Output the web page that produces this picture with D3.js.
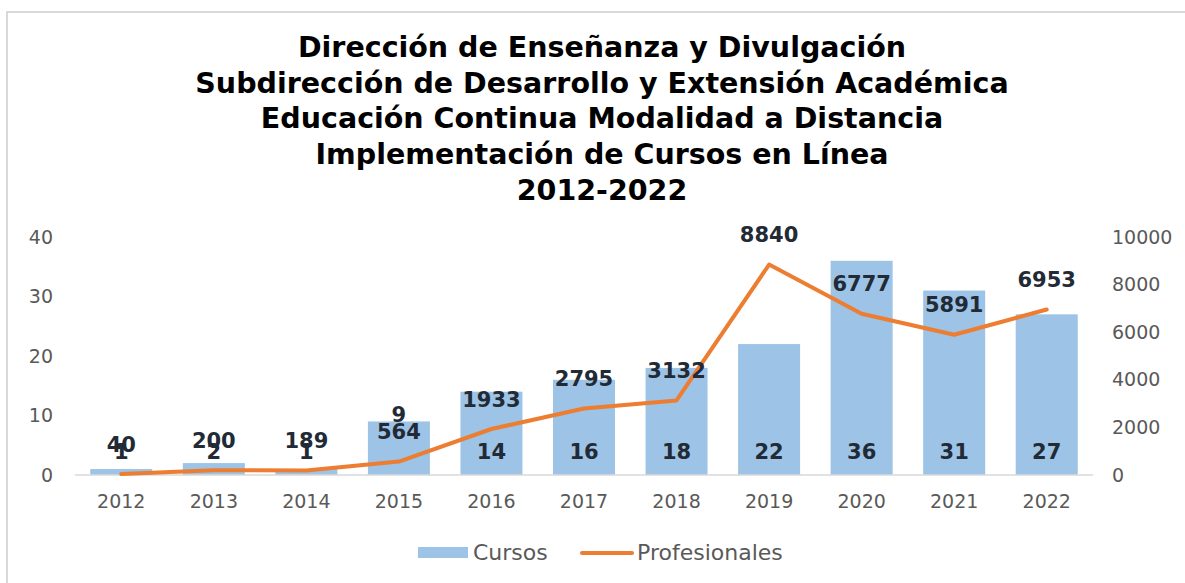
<!DOCTYPE html>
<html>
<head>
<meta charset="utf-8">
<script src="https://cdn.jsdelivr.net/npm/d3@7"></script>
<style>
  body { margin: 0; background: #fff; }
  svg { display: block; }
</style>
</head>
<body>
<svg id="chart" width="1185" height="583"></svg>
<script>
var years = ["2012", "2013", "2014", "2015", "2016", "2017", "2018", "2019", "2020", "2021", "2022"];
var cursos = [1, 2, 1, 9, 14, 16, 18, 22, 36, 31, 27];
var profesionales = [40, 200, 189, 564, 1933, 2795, 3132, 8840, 6777, 5891, 6953];
var leftTicks = [0, 10, 20, 30, 40];
var rightTicks = [0, 2000, 4000, 6000, 8000, 10000];
var titleLines = [
    "Dirección de Enseñanza y Divulgación",
    "Subdirección de Desarrollo y Extensión Académica",
    "Educación Continua Modalidad a Distancia",
    "Implementación de Cursos en Línea",
    "2012-2022"
];

var svg = d3.select("#chart");
var font = "'DejaVu Sans', sans-serif";
var labelColor = "#222a35";
var axisColor = "#595959";

// outer frame
svg.append("rect")
    .attr("x", 7).attr("y", 12)
    .attr("width", 1200).attr("height", 600)
    .attr("fill", "none")
    .attr("stroke", "#d9d9d9")
    .attr("stroke-width", 2);

// title
svg.append("g").selectAll("text")
    .data(titleLines)
    .enter().append("text")
    .attr("x", 602)
    .attr("y", (d, i) => 57 + i * 35.7)
    .attr("text-anchor", "middle")
    .style("font-family", font)
    .style("font-weight", "bold")
    .style("font-size", "28.5px")
    .style("fill", "#000")
    .text(d => d);

var x = d3.scaleBand()
    .domain(years)
    .range([75, 1093])
    .paddingInner(0.33)
    .paddingOuter(0.165);

var yLeft = d3.scaleLinear().domain([0, 40]).range([475, 237]);
var yRight = d3.scaleLinear().domain([0, 10000]).range([475, 237]);

// bars
svg.append("g").selectAll("rect")
    .data(cursos)
    .enter().append("rect")
    .attr("x", (d, i) => x(years[i]))
    .attr("y", d => yLeft(d))
    .attr("width", x.bandwidth())
    .attr("height", d => yLeft(0) - yLeft(d))
    .attr("fill", "#9dc3e6");

// baseline
svg.append("line")
    .attr("x1", x.range()[0]).attr("x2", x.range()[1])
    .attr("y1", yLeft(0)).attr("y2", yLeft(0))
    .attr("stroke", "#d9d9d9")
    .attr("stroke-width", 1.5);

// line
var lineDraw = d3.line()
    .x((d, i) => x(years[i]) + x.bandwidth() / 2)
    .y(d => yRight(d));

svg.append("path")
    .datum(profesionales)
    .attr("d", lineDraw)
    .attr("fill", "none")
    .attr("stroke", "#ed7d31")
    .attr("stroke-width", 4)
    .attr("stroke-linejoin", "round")
    .attr("stroke-linecap", "round");

// left axis
svg.append("g")
    .attr("transform", "translate(53,0)")
    .call(d3.axisLeft(yLeft).tickValues(leftTicks).tickSize(0).tickPadding(0))
    .call(g => g.select(".domain").remove())
    .selectAll("text")
    .style("font-family", font)
    .style("font-size", "19px")
    .style("fill", axisColor);

// right axis
svg.append("g")
    .attr("transform", "translate(1112,0)")
    .call(d3.axisRight(yRight).tickValues(rightTicks).tickFormat(d3.format("d")).tickSize(0).tickPadding(0))
    .call(g => g.select(".domain").remove())
    .selectAll("text")
    .style("font-family", font)
    .style("font-size", "19px")
    .style("fill", axisColor);

// x axis
svg.append("g")
    .attr("transform", "translate(0," + yLeft(0) + ")")
    .call(d3.axisBottom(x).tickSize(0).tickPadding(20))
    .call(g => g.select(".domain").remove())
    .selectAll("text")
    .style("font-family", font)
    .style("font-size", "19px")
    .style("fill", axisColor);

// bar labels: inside base for tall bars, just over the top for short ones
svg.append("g").selectAll("text")
    .data(cursos)
    .enter().append("text")
    .attr("x", (d, i) => x(years[i]) + x.bandwidth() / 2)
    .attr("y", d => (yLeft(0) - yLeft(d) > 60) ? yLeft(0) - 24 : Math.min(451, yLeft(d) - 7))
    .attr("dy", "0.36em")
    .attr("text-anchor", "middle")
    .style("font-family", font)
    .style("font-weight", "bold")
    .style("font-size", "21px")
    .style("fill", labelColor)
    .text(d => d);

// line labels
svg.append("g").selectAll("text")
    .data(profesionales)
    .enter().append("text")
    .attr("x", (d, i) => x(years[i]) + x.bandwidth() / 2)
    .attr("y", d => yRight(d) - 30)
    .attr("dy", "0.36em")
    .attr("text-anchor", "middle")
    .style("font-family", font)
    .style("font-weight", "bold")
    .style("font-size", "21px")
    .style("fill", labelColor)
    .text(d => d);

// legend
var legend = svg.append("g");
legend.append("rect")
    .attr("x", 418).attr("y", 547)
    .attr("width", 50).attr("height", 11)
    .attr("fill", "#9dc3e6");
legend.append("text")
    .attr("x", 473).attr("y", 552)
    .attr("dy", "0.36em")
    .style("font-family", font)
    .style("font-size", "22px")
    .style("fill", axisColor)
    .text("Cursos");
legend.append("line")
    .attr("x1", 582).attr("x2", 632)
    .attr("y1", 553).attr("y2", 553)
    .attr("stroke", "#ed7d31")
    .attr("stroke-width", 4)
    .attr("stroke-linecap", "round");
legend.append("text")
    .attr("x", 637).attr("y", 552)
    .attr("dy", "0.36em")
    .style("font-family", font)
    .style("font-size", "22px")
    .style("fill", axisColor)
    .text("Profesionales");
</script>
</body>
</html>
